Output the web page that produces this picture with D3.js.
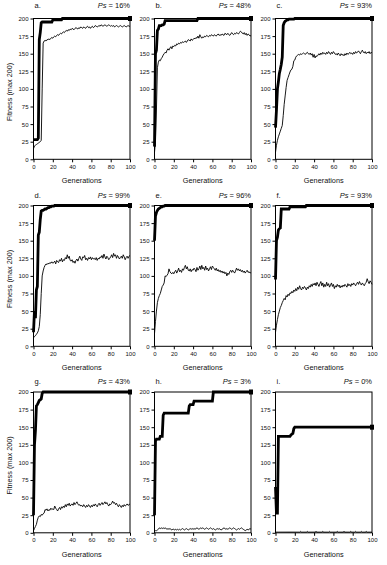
<!DOCTYPE html>
<html><head><meta charset="utf-8">
<script src="https://cdn.jsdelivr.net/npm/d3@7"></script>
<style>
html,body{margin:0;padding:0;background:#fff;}
svg{display:block;}
text{font-family:"Liberation Sans",Arial,sans-serif;fill:#111;}
</style></head>
<body>
<svg id="chart" width="387" height="565"></svg>
<script>
// ---------- DATA ----------
const generations = d3.range(0, 101);
const yTickValues = [0, 25, 50, 75, 100, 125, 150, 175, 200];
const xTickValues = [0, 20, 40, 60, 80, 100];
const panelLetters = ["a.", "b.", "c.", "d.", "e.", "f.", "g.", "h.", "i."];
const psLabels = ["16%", "48%", "93%", "99%", "96%", "93%", "43%", "3%", "0%"];

const aBest = [28,28,28,28,28,30,170,180,194,195, 195,195,195,195,195,195,195,195,195,195,
 198,198,198,198,198,198,198,198,198,198, 200,200,200,200,200,200,200,200,200,200,
 200,200,200,200,200,200,200,200,200,200, 200,200,200,200,200,200,200,200,200,200,
 200,200,200,200,200,200,200,200,200,200, 200,200,200,200,200,200,200,200,200,200,
 200,200,200,200,200,200,200,200,200,200, 200,200,200,200,200,200,200,200,200,200, 200];
const aAvg = [15,19,20,21,22,23,24,25,27,100, 165,168,169,168,170,170,171,170,172,173,
 172,174,175,174,176,177,176,178,179,178, 180,181,180,182,183,182,184,183,185,184,
 186,185,184,186,187,186,185,187,186,188, 187,186,188,187,186,188,189,187,188,186,
 188,189,187,188,190,189,188,189,190,189, 191,190,189,190,191,190,189,190,191,190,
 189,190,189,190,188,189,190,189,188,189, 190,189,188,189,190,189,188,189,190,189, 189];

const bBest = [18,150,155,183,185,190,190,190,191,191, 192,197,197,197,197,197,197,197,197,197,
 197,197,197,197,197,197,197,197,197,197, 197,197,197,197,197,197,197,197,197,197,
 197,197,197,197,197,200,200,200,200,200, 200,200,200,200,200,200,200,200,200,200,
 200,200,200,200,200,200,200,200,200,200, 200,200,200,200,200,200,200,200,200,200,
 200,200,200,200,200,200,200,200,200,200, 200,200,200,200,200,200,200,200,200,200, 200];
const bAvg = [10,25,70,130,138,141,140,143,145,148, 150,152,151,155,157,155,158,160,157,161,
 160,162,161,164,163,165,164,166,165,167, 166,167,168,166,168,170,169,168,171,169,
 170,172,171,173,172,175,172,177,174,172, 174,173,175,174,176,175,174,176,175,177,
 176,175,177,176,175,177,178,176,177,176, 178,177,176,179,178,177,179,177,176,178,
 180,178,177,179,178,180,179,178,180,182, 181,179,178,180,177,179,176,178,177,175, 176];

const cBest = [45,70,100,110,122,128,135,145,190,194, 196,197,198,198,199,199,199,199,199,199,
 200,200,200,200,200,200,200,200,200,200, 200,200,200,200,200,200,200,200,200,200,
 200,200,200,200,200,200,200,200,200,200, 200,200,200,200,200,200,200,200,200,200,
 200,200,200,200,200,200,200,200,200,200, 200,200,200,200,200,200,200,200,200,200,
 200,200,200,200,200,200,200,200,200,200, 200,200,200,200,200,200,200,200,200,200, 200];
const cAvg = [10,20,27,32,36,40,44,48,62,78, 90,102,112,116,120,124,127,128,132,140,
 141,145,147,148,149,148,150,149,150,151, 150,149,151,152,150,149,151,148,150,145,
 149,144,147,146,148,150,148,151,149,152, 150,151,149,152,150,153,151,149,152,150,
 153,151,149,150,148,151,149,147,150,148, 149,147,150,148,151,149,150,152,150,151,
 149,152,150,153,151,152,154,152,150,153, 155,152,151,153,150,152,151,153,150,152, 151];

const dBest = [20,50,40,80,85,158,162,180,192,193, 193,194,195,195,196,197,197,198,198,199,
 199,199,200,200,200,200,200,200,200,200, 200,200,200,200,200,200,200,200,200,200,
 200,200,200,200,200,200,200,200,200,200, 200,200,200,200,200,200,200,200,200,200,
 200,200,200,200,200,200,200,200,200,200, 200,200,200,200,200,200,200,200,200,200,
 200,200,200,200,200,200,200,200,200,200, 200,200,200,200,200,200,200,200,200,200, 200];
const dAvg = [12,14,15,17,19,22,28,45,75,100, 107,112,115,117,116,118,117,119,118,120,
 118,119,121,117,122,120,119,123,121,125, 120,123,122,126,124,130,125,128,122,121,
 123,119,121,118,122,124,121,125,128,124, 122,127,126,129,123,125,122,126,124,127,
 123,126,124,125,123,126,122,125,124,127, 126,129,125,131,127,124,128,126,123,125,
 127,130,126,132,128,130,125,129,127,124, 126,128,125,130,127,123,126,128,125,128, 129];

const eBest = [150,185,190,193,195,196,197,198,198,199, 199,200,200,200,200,200,200,200,200,200,
 200,200,200,200,200,200,200,200,200,200, 200,200,200,200,200,200,200,200,200,200,
 200,200,200,200,200,200,200,200,200,200, 200,200,200,200,200,200,200,200,200,200,
 200,200,200,200,200,200,200,200,200,200, 200,200,200,200,200,200,200,200,200,200,
 200,200,200,200,200,200,200,200,200,200, 200,200,200,200,200,200,200,200,200,200, 200];
const eAvg = [18,35,50,62,68,72,75,80,85,87, 90,100,99,101,103,110,106,104,103,105,
 103,106,108,104,107,111,106,108,105,110, 108,112,115,110,113,108,107,110,106,109,
 108,111,109,106,112,108,110,114,109,115, 110,112,108,114,109,111,107,110,113,109,
 114,112,110,108,111,107,109,106,108,105, 107,104,106,103,105,100,104,102,106,108,
 105,108,106,104,107,111,108,110,107,109, 106,108,105,107,104,106,108,105,106,104, 105];

const fBest = [95,150,155,165,167,168,195,195,195,195, 195,195,195,195,195,198,198,198,198,198,
 198,198,198,198,198,198,198,198,198,198, 198,198,200,200,200,200,200,200,200,200,
 200,200,200,200,200,200,200,200,200,200, 200,200,200,200,200,200,200,200,200,200,
 200,200,200,200,200,200,200,200,200,200, 200,200,200,200,200,200,200,200,200,200,
 200,200,200,200,200,200,200,200,200,200, 200,200,200,200,200,200,200,200,200,200, 200];
const fAvg = [20,30,38,45,50,55,58,62,65,68, 66,72,70,74,72,76,75,78,76,80,
 78,82,79,84,81,86,82,80,84,82, 85,83,80,84,82,86,84,88,85,89,
 87,90,86,91,88,85,89,92,86,90, 84,88,85,91,86,89,84,87,90,85,
 88,82,86,84,88,85,87,83,86,84, 87,85,88,86,84,89,86,88,85,89,
 87,90,88,86,89,91,88,92,89,87, 90,88,86,89,91,96,92,89,93,91, 88];

const gBest = [25,125,145,180,182,185,188,189,190,198, 200,200,200,200,200,200,200,200,200,200,
 200,200,200,200,200,200,200,200,200,200, 200,200,200,200,200,200,200,200,200,200,
 200,200,200,200,200,200,200,200,200,200, 200,200,200,200,200,200,200,200,200,200,
 200,200,200,200,200,200,200,200,200,200, 200,200,200,200,200,200,200,200,200,200,
 200,200,200,200,200,200,200,200,200,200, 200,200,200,200,200,200,200,200,200,200, 200];
const gAvg = [3,6,9,12,18,22,24,23,26,25, 27,28,33,32,34,31,33,32,35,33,
 34,33,38,35,33,31,34,36,33,37, 35,38,36,40,37,41,39,42,38,40,
 41,39,43,40,42,44,41,39,40,38, 39,37,40,38,36,39,37,40,38,36,
 39,37,40,38,41,39,37,40,42,39, 41,43,40,42,44,41,43,40,38,41,
 40,42,45,42,43,40,42,39,37,40, 38,36,39,37,40,38,39,41,39,40, 41];

const hBest = [25,130,133,133,133,133,137,137,137,167, 170,170,170,170,170,170,170,170,170,170,
 170,170,170,170,170,170,170,170,170,170, 170,170,170,170,170,170,180,182,182,182,
 182,187,187,187,187,187,187,187,187,187, 187,187,187,187,187,187,187,187,187,187,
 187,200,200,200,200,200,200,200,200,200, 200,200,200,200,200,200,200,200,200,200,
 200,200,200,200,200,200,200,200,200,200, 200,200,200,200,200,200,200,200,200,200, 200];
const hAvg = [2,3,3,4,5,7,6,7,6,7, 6,7,6,5,6,5,6,5,4,5,
 5,4,5,4,5,4,5,4,5,6, 5,4,5,6,5,4,5,6,5,6,
 5,6,5,6,7,6,5,6,7,6, 7,6,5,6,7,6,5,6,7,6,
 5,6,5,4,5,6,5,6,5,4, 5,6,7,6,5,6,5,6,7,6,
 5,6,7,6,5,4,5,6,5,6, 7,6,5,4,3,4,5,4,5,6, 5];

const iBest = [65,28,28,137,137,137,137,137,137,137, 137,137,137,137,137,137,139,140,141,148,
 150,150,150,150,150,150,150,150,150,150, 150,150,150,150,150,150,150,150,150,150,
 150,150,150,150,150,150,150,150,150,150, 150,150,150,150,150,150,150,150,150,150,
 150,150,150,150,150,150,150,150,150,150, 150,150,150,150,150,150,150,150,150,150,
 150,150,150,150,150,150,150,150,150,150, 150,150,150,150,150,150,150,150,150,150, 150];
const iAvg = [0,1,1,1,1,1,1,1,1,1, 1,1,1,1,1,1,1,1,1,1,
 1,1,1,1,1,1,2,1,1,1, 1,1,1,2,1,1,1,1,1,1,
 1,1,2,1,1,1,1,1,1,2, 1,1,1,1,1,1,2,1,1,1,
 1,1,1,1,2,1,1,1,1,1, 1,2,1,1,1,1,1,1,2,1,
 1,1,1,2,1,1,1,1,1,2, 1,1,1,1,2,1,1,1,1,1, 1];

const bestSeries = [aBest, bBest, cBest, dBest, eBest, fBest, gBest, hBest, iBest];
const avgSeries  = [aAvg, bAvg, cAvg, dAvg, eAvg, fAvg, gAvg, hAvg, iAvg];

// ---------- LAYOUT ----------
const colLeft = [33.5, 154.5, 275.5];
const rowTop = [18.5, 205.5, 392];
const titleBase = [8, 197.5, 384];
const PW = 96.5, PH = 140.8;

const svg = d3.select("#chart");

panelLetters.forEach((letter, idx) => {
  const col = idx % 3, row = Math.floor(idx / 3);
  const x0 = colLeft[col], y0 = rowTop[row];
  const x = d3.scaleLinear().domain([0, 100]).range([x0, x0 + PW]);
  const y = d3.scaleLinear().domain([0, 200]).range([y0 + PH, y0]);
  const g = svg.append("g");

  // frame
  g.append("rect").attr("x", x0).attr("y", y0).attr("width", PW).attr("height", PH)
    .attr("fill", "none").attr("stroke", "#000").attr("stroke-width", 1);

  // y axis
  const ya = d3.axisLeft(y).tickValues(yTickValues).tickSize(3).tickPadding(2);
  const yg = g.append("g").attr("transform", `translate(${x0},0)`).call(ya);
  yg.select(".domain").remove();
  yg.selectAll("line").attr("stroke", "#000");
  yg.selectAll("text").style("font-size", "6px").style("font-family", '"Liberation Sans",Arial,sans-serif').attr("fill", "#111");

  // x axis
  const xa = d3.axisBottom(x).tickValues(xTickValues).tickSize(3).tickPadding(2);
  const xg = g.append("g").attr("transform", `translate(0,${y0 + PH})`).call(xa);
  xg.select(".domain").remove();
  xg.selectAll("line").attr("stroke", "#000");
  xg.selectAll("text").style("font-size", "6px").style("font-family", '"Liberation Sans",Arial,sans-serif').attr("fill", "#111");

  // x title
  g.append("text").attr("x", x0 + PW / 2).attr("y", y0 + PH + 24)
    .attr("text-anchor", "middle").style("font-size", "7.3px").text("Generations");

  // y title (left column only)
  if (col === 0) {
    g.append("text")
      .attr("transform", `translate(11.5,${y0 + PH / 2 + 3}) rotate(-90)`)
      .attr("text-anchor", "middle").style("font-size", "7.3px").text("Fitness (max 200)");
  }

  // panel letter
  g.append("text").attr("x", x0 + 1).attr("y", titleBase[row])
    .style("font-size", "7.5px").text(letter);

  // Ps label
  const ps = g.append("text").attr("x", x0 + PW).attr("y", titleBase[row])
    .attr("text-anchor", "end").style("font-size", "7.5px");
  ps.append("tspan").style("font-style", "italic").text("Ps");
  ps.append("tspan").text(" = " + psLabels[idx]);

  const line = d3.line().x((d, i) => x(generations[i])).y(d => y(d));

  // average (thin)
  g.append("path").datum(avgSeries[idx]).attr("d", line)
    .attr("fill", "none").attr("stroke", "#000").attr("stroke-width", 0.9)
    .attr("stroke-linejoin", "round");

  // best (thick)
  const best = bestSeries[idx];
  g.append("path").datum(best).attr("d", line)
    .attr("fill", "none").attr("stroke", "#000").attr("stroke-width", 2.8)
    .attr("stroke-linejoin", "miter");
  const last = best[best.length - 1];
  g.append("rect").attr("x", x(100) - 2).attr("y", y(last) - 2.5)
    .attr("width", 4).attr("height", 5).attr("fill", "#000");
});
</script>
</body></html>
